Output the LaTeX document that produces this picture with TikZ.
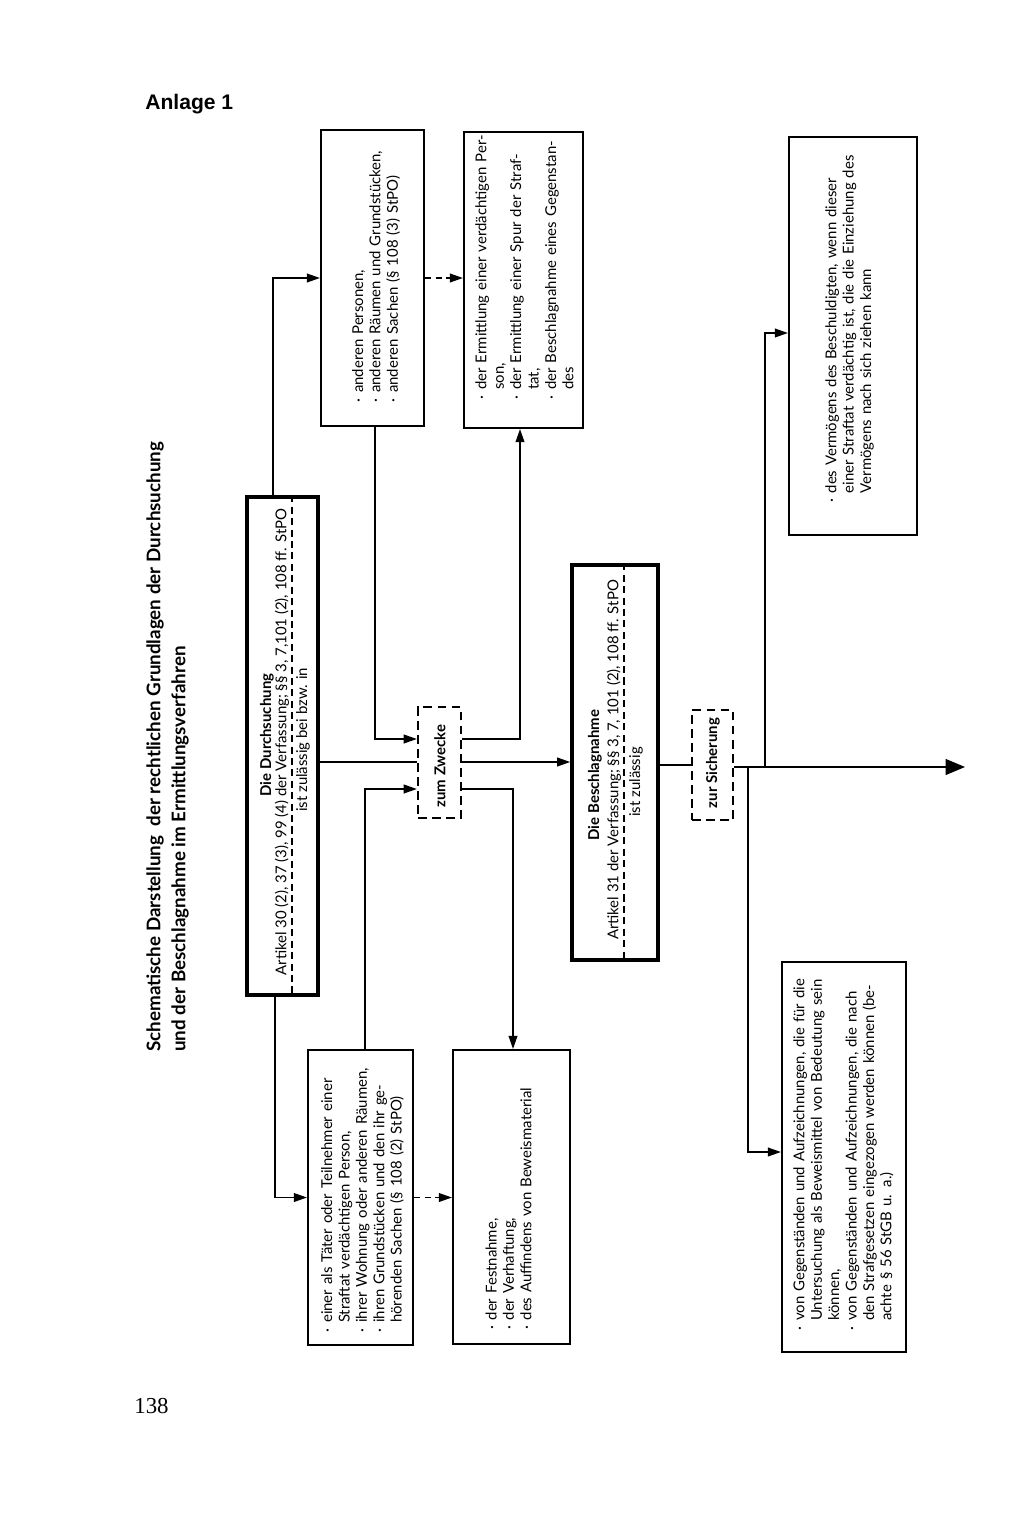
\documentclass[tikz,border=0pt]{standalone}
\usepackage{fontspec}
\setmainfont{Lato}
\newfontfamily\headfont{Liberation Sans}
\newfontfamily\numfont{Liberation Serif}
\usetikzlibrary{arrows.meta,calc}
\newlength\bulw
\setlength\bulw{5.5pt}
\newcommand\bodyfont{\fontsize{8.5}{9.9}\selectfont}
\newcommand\BulJ[1]{\noindent\makebox[\bulw][l]{·}\makebox[\dimexpr\hsize-\bulw\relax][s]{#1}\par}
\newcommand\BulN[1]{\noindent\makebox[\bulw][l]{·}#1\par}
\newcommand\ConJ[1]{\noindent\hspace*{\bulw}\makebox[\dimexpr\hsize-\bulw\relax][s]{#1}\par}
\newcommand\ConN[1]{\noindent\hspace*{\bulw}#1\par}
\begin{document}
\begin{tikzpicture}[x=0.02cm,y=-0.02cm,
  box/.style={draw, line width=1.2pt, inner sep=0pt},
  thickbox/.style={draw, line width=2pt, inner sep=0pt},
  dbox/.style={draw, line width=1.3pt, dash pattern=on 5pt off 3pt, inner sep=0pt},
  para/.style={rotate=90, inner sep=0pt, font=\bodyfont, anchor=center},
  line/.style={line width=0.9pt},
  arr/.style={line width=0.9pt, -{Triangle[length=7.5pt,width=5pt]}},
  darr/.style={line width=0.9pt, dash pattern=on 3.5pt off 2.5pt, -{Triangle[length=7.5pt,width=5pt]}},
  bigarr/.style={line width=0.9pt, -{Triangle[length=11pt,width=9pt]}}]
\useasboundingbox (0,0) rectangle (1024,1514);

% headings
\node[font=\headfont\bfseries\fontsize{12}{14}\selectfont, anchor=west, inner sep=0pt] (anl) at (145,104) {Anlage 1};
\node[rotate=90, anchor=west, inner sep=0pt, font=\bfseries\fontsize{10.7}{12}\selectfont] (titA) at (155,1052) {Schematische Darstellung\ \ der rechtlichen Grundlagen der Durchsuchung};
\node[rotate=90, anchor=west, inner sep=0pt, font=\bfseries\fontsize{10.7}{12}\selectfont] (titB) at (180,1052) {und der Beschlagnahme im Ermittlungsverfahren};
\node[font=\numfont\fontsize{13}{15}\selectfont, anchor=west, inner sep=0pt] (page) at (134,1406) {138};

% boxes
\node[thickbox, minimum width=1.42cm, minimum height=9.96cm] (durch) at (282.5,746) {};
\node[box, minimum width=2.06cm, minimum height=5.92cm] (andPers) at (372.5,278) {};
\node[box, minimum width=2.38cm, minimum height=5.92cm] (ermit) at (523.5,280) {};
\node[dbox, minimum width=0.86cm, minimum height=2.22cm] (zweck) at (439.5,762.5) {};
\node[box, minimum width=2.1cm, minimum height=5.9cm] (taeter) at (360.5,1197.5) {};
\node[box, minimum width=2.34cm, minimum height=5.88cm] (festn) at (511.5,1197) {};
\node[thickbox, minimum width=1.72cm, minimum height=7.9cm] (beschl) at (615,762.5) {};
\node[dbox, minimum width=0.82cm, minimum height=2.2cm] (sicher) at (712.5,765) {};
\node[box, minimum width=2.56cm, minimum height=7.96cm] (vermoeg) at (853,336) {};
\node[box, minimum width=2.48cm, minimum height=7.8cm] (gegenst) at (844,1157) {};

% texts in Durchsuchung box
\node[para, font=\bodyfont\bfseries] (durchA) at (267,735) {Die Durchsuchung};
\node[para] (durchB) at (282,742) {Artikel 30 (2), 37 (3), 99 (4) der Verfassung; §§ 3, 7,101 (2), 108 ff. StPO};
\draw[line width=0.7pt, dash pattern=on 4pt off 2.5pt] (durch.north -| 292,0) -- (durch.south -| 292,0);
\node[para] (durchC) at (303,740) {ist zulässig bei bzw. in};

% texts in Beschlagnahme box
\node[para, font=\bodyfont\bfseries] (beschA) at (595,775) {Die Beschlagnahme};
\node[para] (beschB) at (614,760) {Artikel 31 der Verfassung; §§ 3, 7, 101 (2), 108 ff. StPO};
\draw[line width=0.7pt, dash pattern=on 4pt off 2.5pt] (beschl.north -| 624,0) -- (beschl.south -| 624,0);
\node[para] (beschC) at (636,782) {ist zulässig};

% dashed boxes texts
\node[para, font=\bodyfont\bfseries] (zweckT) at (440,766) {zum Zwecke};
\node[para, font=\bodyfont\bfseries] (sicherT) at (713,763) {zur Sicherung};

% paragraph texts
\node[para, text width=5.1cm] (andPersT) at (376,275) {%
\BulN{anderen Personen,}
\BulJ{anderen Räumen und Grundstücken,}
\BulN{anderen Sachen (§ 108 (3) StPO)}};

\node[para, text width=5.1cm] (ermitT) at (524.5,272) {%
\BulJ{der Ermittlung einer verdächtigen Per-}
\ConN{son,}
\BulJ{der Ermittlung einer Spur der Straf-}
\ConN{tat,}
\BulJ{der Beschlagnahme eines Gegenstan-}
\ConN{des}};

\node[para, text width=5.4cm] (taeterT) at (362.5,1197.5) {%
\BulJ{einer als Täter oder Teilnehmer einer}
\ConN{Straftat verdächtigen Person,}
\BulJ{ihrer Wohnung oder anderen Räumen,}
\BulJ{ihren Grundstücken und den ihr ge-}
\ConJ{hörenden Sachen (§ 108 (2) StPO)}};

\node[para, text width=5.3cm] (festnT) at (508.5,1197.5) {%
\BulN{der Festnahme,}
\BulN{der Verhaftung,}
\BulN{des Auffindens von Beweismaterial}};

\node[para, text width=7.1cm] (vermoegT) at (849.5,325.5) {%
\BulJ{des Vermögens des Beschuldigten, wenn dieser}
\ConJ{einer Straftat verdächtig ist, die die Einziehung des}
\ConN{Vermögens nach sich ziehen kann}};

\node[para, text width=7.26cm] (gegenstT) at (843.5,1149) {%
\BulJ{von Gegenständen und Aufzeichnungen, die für die}
\ConJ{Untersuchung als Beweismittel von Bedeutung sein}
\ConN{können,}
\BulJ{von Gegenständen und Aufzeichnungen, die nach}
\ConJ{den Strafgesetzen eingezogen werden können (be-}
\ConN{achte § 56 StGB u. a.)}};

% connectors
\draw[arr] (durch.north -| 273,0) |- (andPers.west);
\draw[darr] (andPers.east) -- (ermit.west |- andPers.east);
\draw[arr] (andPers.south -| 375,0) |- (zweck.west |- 0,739);
\draw[line] (durch.east |- 0,762) -- (zweck.west |- 0,762);
\draw[arr] (taeter.north -| 365,0) |- (zweck.west |- 0,789);
\draw[arr] (durch.south -| 275,0) |- (taeter.west);
\draw[darr] (taeter.east) -- (festn.west |- taeter.east);
\draw[arr] (zweck.east |- 0,739) -| (ermit.south -| 520,0);
\draw[arr] (zweck.east |- 0,762) -- (beschl.west |- 0,762);
\draw[arr] (zweck.east |- 0,789) -| (festn.north -| 513,0);
\draw[line] (beschl.east |- 0,765) -- (sicher.west |- 0,765);
\coordinate (tip) at (965,767);
\draw[bigarr] (sicher.east |- 0,767) -- (tip);
\coordinate (j1) at (765,767);
\coordinate (j2) at (748,767);
\draw[arr] (j1) |- (vermoeg.west |- 0,333);
\draw[arr] (j2) |- (gegenst.west |- 0,1152);
\end{tikzpicture}
\end{document}
